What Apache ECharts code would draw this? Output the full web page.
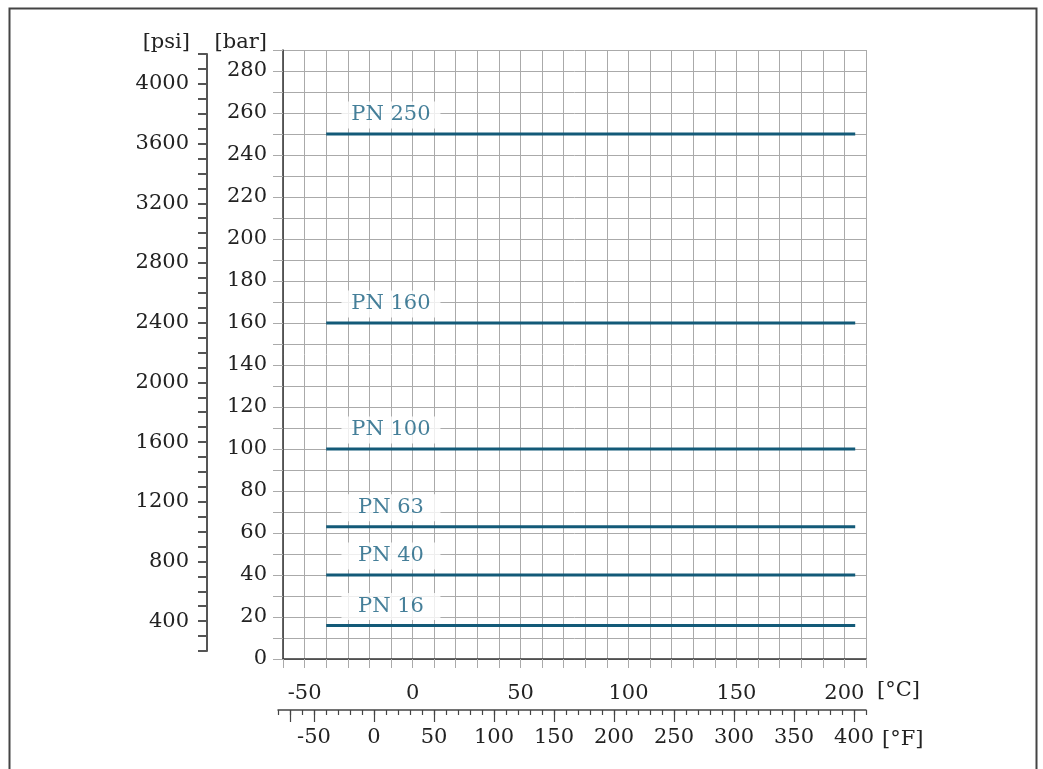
<!DOCTYPE html>
<html>
<head>
<meta charset="utf-8">
<script src="https://cdn.jsdelivr.net/npm/echarts@6/dist/echarts.min.js"></script>
<style>
  html, body { margin: 0; padding: 0; background: #fff; }
  #chart { width: 1043px; height: 769px; }
</style>
</head>
<body>
<div id="chart"></div>
<script>
// pressure ratings (bar) and temperature span (°C)
const ratings = ["PN 250", "PN 160", "PN 100", "PN 63", "PN 40", "PN 16"];
const pressureBar = [250, 160, 100, 63, 40, 16];
const tempRangeC = [-40, 205];
const labelTempC = -10;
// °F scale ticks / labels
const fTickMajor = [-70, -50, 0, 50, 100, 150, 200, 250, 300, 350, 400];
const fLabels = [-50, 0, 50, 100, 150, 200, 250, 300, 350, 400];

const font = "DejaVu Serif";
const fontSize = 21;
const textColor = "#222";
const gridColor = "#aaa";
const lineColor = "#135a78";
const pnTextColor = "#175f80";

const txt = (extra) => Object.assign({ fontFamily: font, fontSize: fontSize, color: textColor }, extra || {});

const chart = echarts.init(document.getElementById("chart"));

const lineSeries = ratings.map((r, i) => ({
  name: r,
  type: "line",
  xAxisIndex: 0,
  yAxisIndex: 0,
  showSymbol: false,
  symbol: "none",
  lineStyle: { color: lineColor, width: 3 },
  data: [[tempRangeC[0], pressureBar[i]], [tempRangeC[1], pressureBar[i]]],
  z: 3
}));

const labelSeries = {
  type: "scatter",
  xAxisIndex: 0,
  yAxisIndex: 0,
  symbolSize: 0,
  z: 4,
  label: {
    show: true,
    position: "inside",
    offset: [0, -19],
    formatter: (p) => p.name,
    fontFamily: font,
    fontSize: fontSize,
    color: pnTextColor,
    backgroundColor: "#fff",
    width: 99,
    height: 27,
    lineHeight: 27,
    align: "center",
    verticalAlign: "middle"
  },
  data: ratings.map((r, i) => ({ name: r, value: [labelTempC, pressureBar[i]] }))
};

const option = {
  animation: false,
  backgroundColor: "#fff",
  graphic: [
    {
      type: "rect",
      silent: true,
      shape: { x: 9.5, y: 8.5, width: 1027, height: 800 },
      style: { fill: "none", stroke: "#444", lineWidth: 2 }
    },
    {
      type: "text", left: 877, top: 680, silent: true,
      style: { text: "[°C]", font: fontSize + "px '" + font + "'", fill: textColor }
    },
    {
      type: "text", left: 882, top: 729, silent: true,
      style: { text: "[°F]", font: fontSize + "px '" + font + "'", fill: textColor }
    }
  ],
  grid: [
    { left: 283, right: 177, top: 50, bottom: 110 },
    { left: 207, width: 1, top: 54, bottom: 118 },
    { left: 278, right: 177, top: 680, bottom: 59 },
    { left: 278, right: 177, top: 680, bottom: 59 }
  ],
  xAxis: [
    {
      gridIndex: 0, type: "value", min: -60, max: 210, interval: 10,
      axisLine: { onZero: false, lineStyle: { color: "#333", width: 1.5 } },
      axisTick: { length: 9, lineStyle: { color: gridColor } },
      axisLabel: Object.assign(txt(), { margin: 24, formatter: (v) => (v % 50 === 0 ? String(v) : "") }),
      splitLine: { show: true, lineStyle: { color: gridColor, width: 1 } }
    },
    { gridIndex: 1, type: "value", min: 0, max: 1, show: false },
    {
      gridIndex: 2, type: "value", min: -80, max: 410, interval: 10,
      axisLine: { onZero: false, lineStyle: { color: "#444", width: 1.5 } },
      axisTick: { length: 5, lineStyle: { color: "#444", width: 1.2 } },
      axisLabel: { show: false },
      splitLine: { show: false }
    },
    {
      gridIndex: 3, type: "value", min: -80, max: 410,
      axisLine: { show: false, onZero: false },
      axisTick: { customValues: fTickMajor, length: 12, lineStyle: { color: "#444", width: 1.2 } },
      axisLabel: Object.assign(txt(), { customValues: fLabels, margin: 17 }),
      splitLine: { show: false }
    }
  ],
  yAxis: [
    {
      gridIndex: 0, type: "value", min: 0, max: 290, interval: 10,
      axisLine: { show: true, onZero: false, lineStyle: { color: "#333", width: 1.5 } },
      axisTick: { show: true, length: 10, lineStyle: { color: gridColor } },
      axisLabel: Object.assign(txt(), { margin: 16, formatter: (v) => (v % 20 === 0 ? String(v) : "") }),
      splitLine: { show: true, lineStyle: { color: gridColor, width: 1 } },
      name: "[bar]", nameLocation: "end", nameGap: -3,
      nameTextStyle: txt({ align: "right", verticalAlign: "bottom", padding: [0, 16, 0, 0] })
    },
    {
      gridIndex: 1, type: "value", min: 200, max: 4200, interval: 100,
      axisLine: { show: true, onZero: false, lineStyle: { color: "#555", width: 2 } },
      axisTick: { show: true, length: 9, lineStyle: { color: "#555", width: 2 } },
      axisLabel: Object.assign(txt(), { margin: 18, formatter: (v) => (v % 400 === 0 ? String(v) : "") }),
      splitLine: { show: false },
      name: "[psi]", nameLocation: "end", nameGap: 1,
      nameTextStyle: txt({ align: "right", verticalAlign: "bottom", padding: [0, 17, 0, 0] })
    },
    { gridIndex: 2, type: "value", min: 0, max: 1, show: false },
    { gridIndex: 3, type: "value", min: 0, max: 1, show: false }
  ],
  series: lineSeries.concat([labelSeries])
};

chart.setOption(option);
</script>
</body>
</html>
